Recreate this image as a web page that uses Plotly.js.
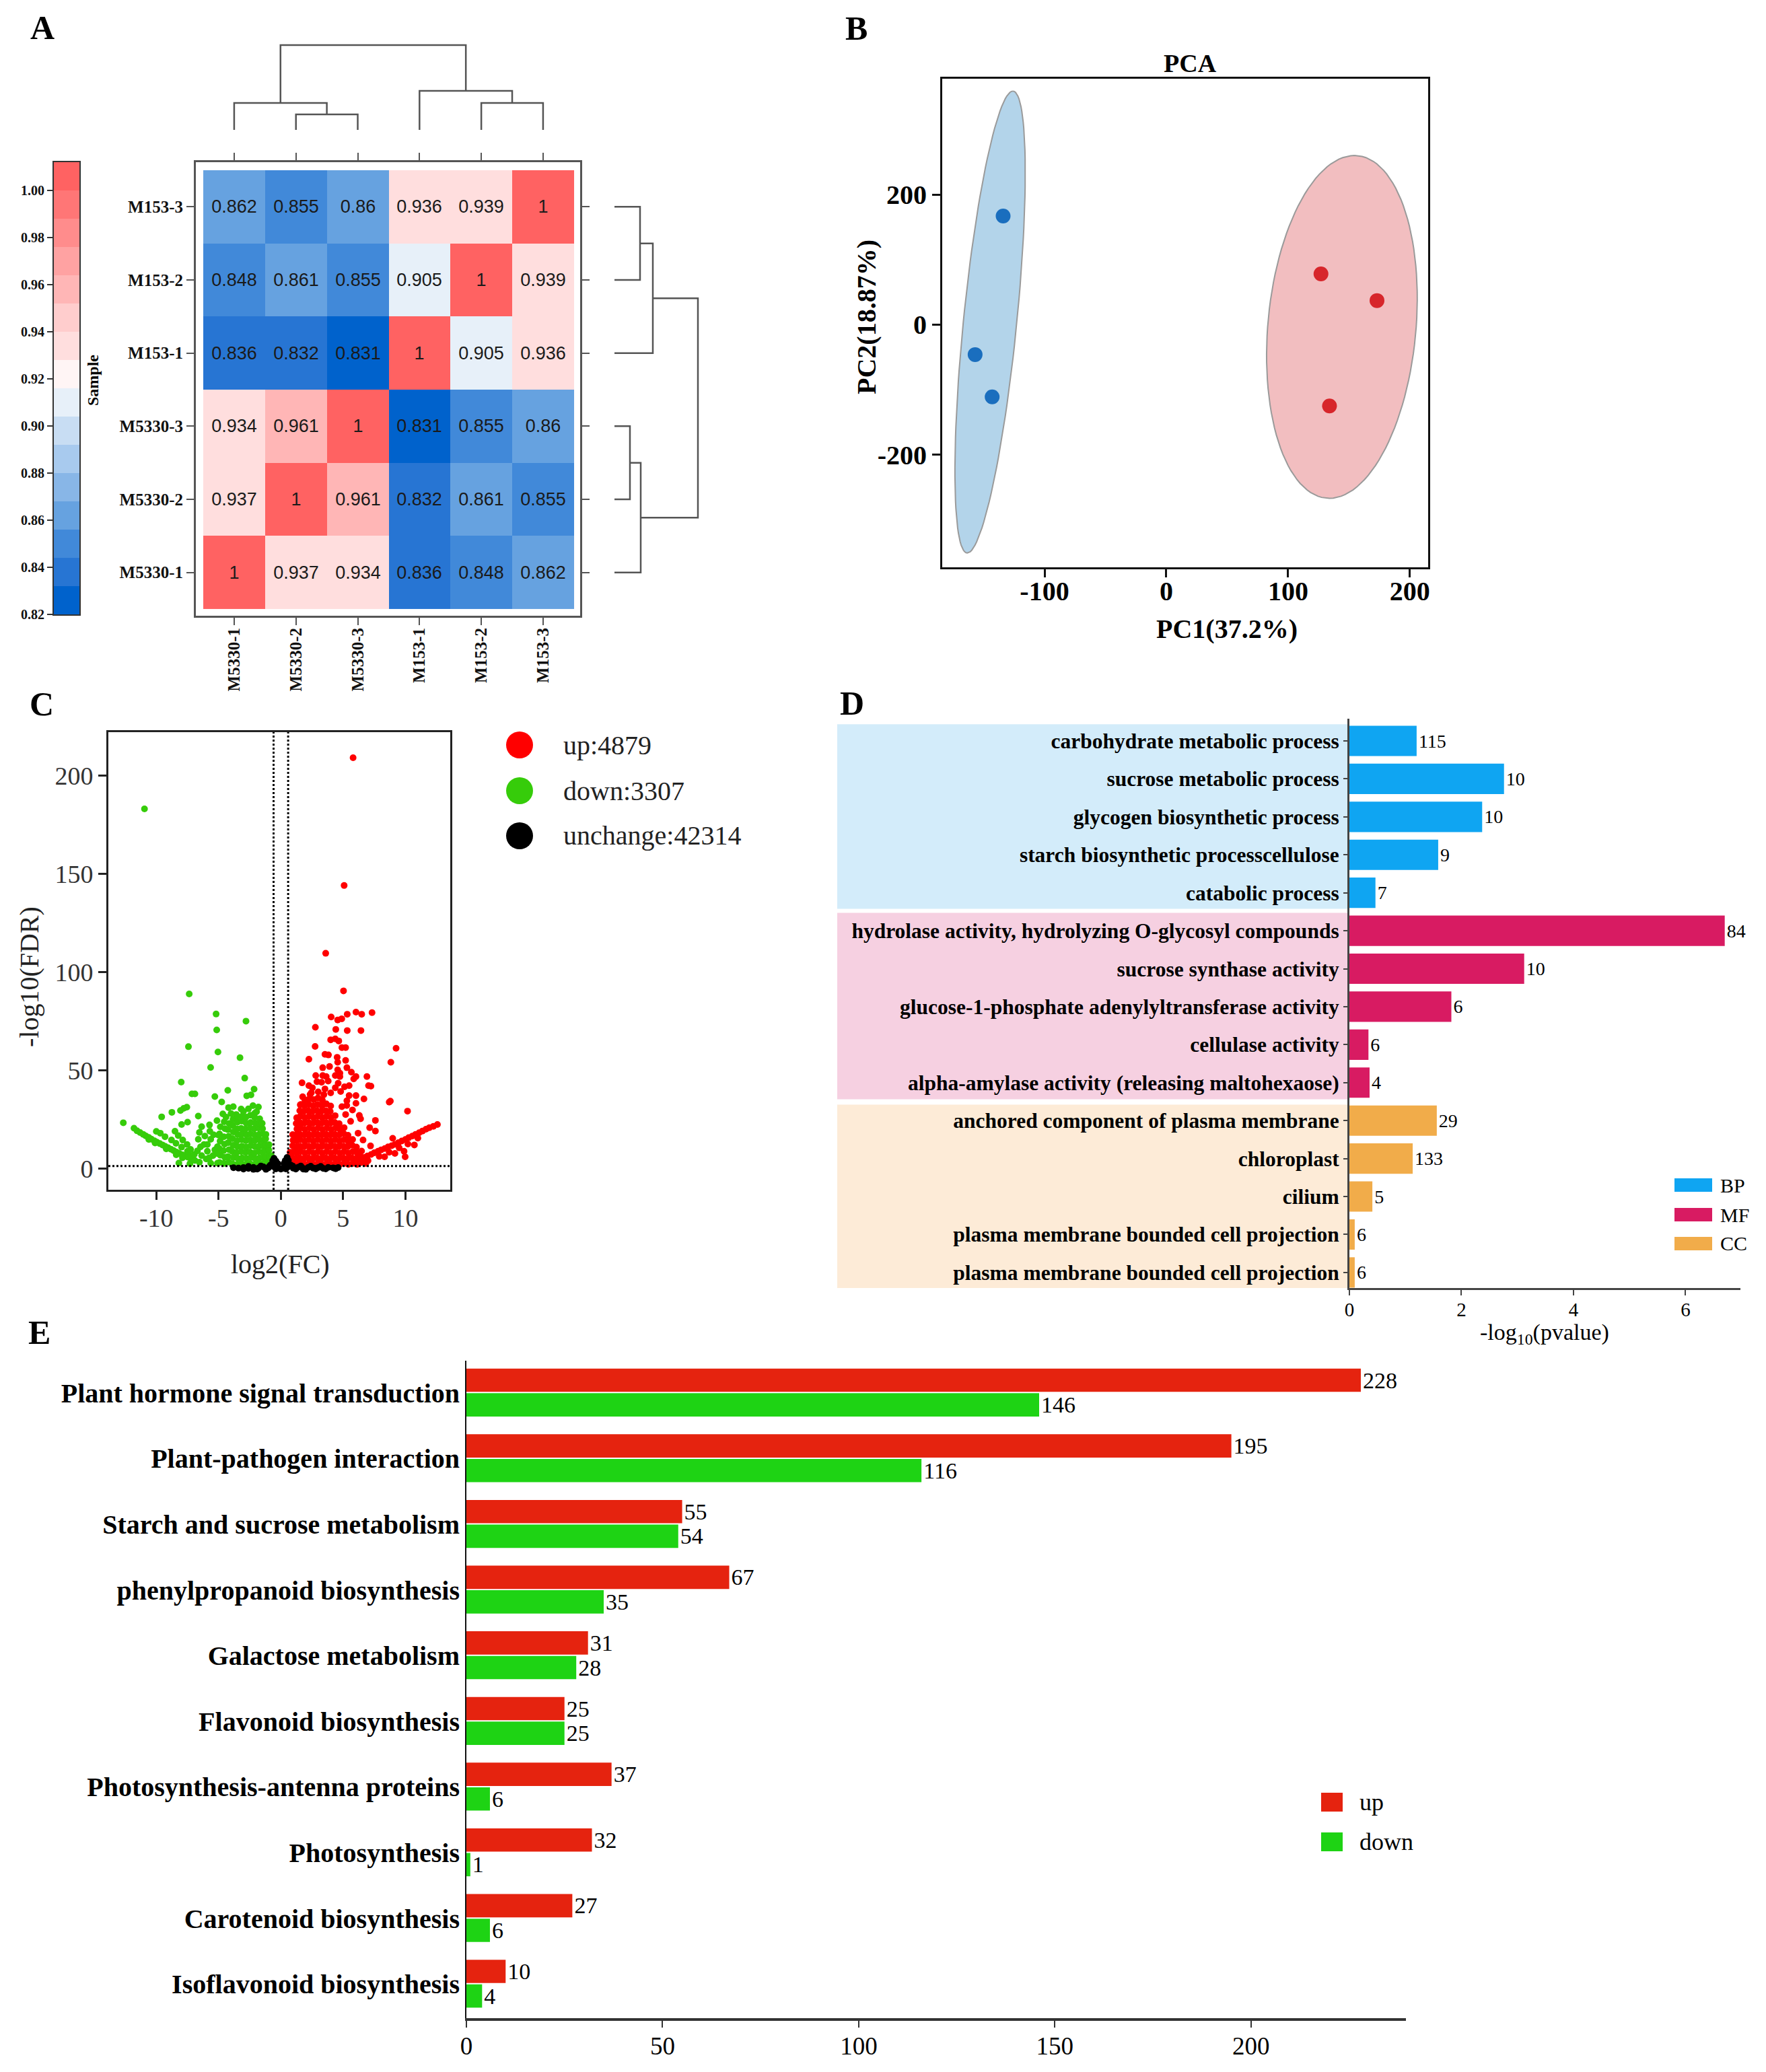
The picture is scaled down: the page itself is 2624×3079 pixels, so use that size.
<!DOCTYPE html>
<html><head><meta charset="utf-8">
<script src="https://cdn.plot.ly/plotly-3.0.1.min.js"></script>
<style>html,body{margin:0;padding:0;background:#fff}#chart{width:2624px;height:3079px}</style>
</head><body><div id="chart"></div>
<script>
// ================= DATA =================
// A: sample correlation (order bottom->top rows, left->right columns)
const samples = ['M5330-1','M5330-2','M5330-3','M153-1','M153-2','M153-3'];
const corrM5330_1 = [1, 0.937, 0.934, 0.836, 0.848, 0.862];
const corrM5330_2 = [0.937, 1, 0.961, 0.832, 0.861, 0.855];
const corrM5330_3 = [0.934, 0.961, 1, 0.831, 0.855, 0.86];
const corrM153_1  = [0.836, 0.832, 0.831, 1, 0.905, 0.936];
const corrM153_2  = [0.848, 0.861, 0.855, 0.905, 1, 0.939];
const corrM153_3  = [0.862, 0.855, 0.86, 0.936, 0.939, 1];
const corrTicks = [0.82,0.84,0.86,0.88,0.90,0.92,0.94,0.96,0.98,1.00];
const corrColors = ['#0062CC','#2775D3','#4189D9','#66A2E0','#88B6E7','#A8CAEE','#C8DDF3','#E7F0F9',
                    '#FFF5F5','#FFDEDE','#FFCDCD','#FFB6B6','#FFA2A2','#FF8C8C','#FF7676','#FF6262'];
// dendrograms: [childA, childB, height]  (numbers = leaf index, 'cK' = merge K)
const topMerges   = [[1,2,23],[0,'c0',40],[4,5,40],[3,'c2',58],['c1','c3',126]];
const rightMerges = [[5,4,38],[3,'c0',57],[2,1,23],[0,'c2',39],['c1','c3',124]];

// B: PCA
const pcaBlueX = [-134, -157, -143];
const pcaBlueY = [167, -46, -111];
const pcaRedX  = [127, 173, 134];
const pcaRedY  = [78, 37, -125];
const ellBlue = [-144.7, 4, 18.7, 355, 22, 0];   // cx, cy, ax, ay, bx, by
const ellRed  = [144.2, -3.5, 10.3, 263.5, 61, 0];

// C: volcano  [log2FC, -log10FDR]
const upPts = [
[5.8,209],[5.08,144],[3.6,109.5],[5.03,90.4],
[7.32,79.3],[6.03,79.6],[6.49,78.5],[5.33,78.5],[4.04,77.1],[4.56,75.6],[4.89,76.2],[2.77,71.9],[4.41,70.8],[5.33,70.2],[6.43,70.2],
[4.0,65.5],[4.37,66.0],[4.65,64.9],[2.75,62.1],[9.25,61.2],[4.9,61.5],[5.2,61.5],[3.54,58.1],[3.82,57.8],[4.52,56.6],[2.25,55.6],
[5.2,55.0],[8.83,54.1],[4.56,54.1],[3.36,51.3],[3.91,51.9],[4.56,50.2],[4.74,48.5],[5.3,51.3],[5.66,49.0],[2.8,47.3],[3.36,47.3],
[3.64,46.8],[4.37,47.3],[4.74,46.8],[6.03,46.8],[5.85,45.6],[6.91,46.8],[1.7,43.6],[2.25,42.2],[2.53,41.1],[3.27,43.9],[5.11,41.6],
[5.48,42.2],[7.04,42.2],[7.23,41.9],[3.54,40.5],[4.37,41.1],[2.35,37.7],[5.48,37.1],[6.03,37.1],[6.67,35.4],[8.79,34.3],[8.7,33.8],
[1.61,32.6],[5.29,32.1],[6.03,33.2],[5.75,29.8],[10.17,29.2],[6.3,27.0],[6.4,25.3],[7.59,24.5],[7.13,20.8],[7.59,19.1],[12.57,22.4],
[3.0,39.0],[4.0,38.5],[4.8,39.2],[3.8,44.5],[2.9,44.2],[4.6,43.4],[1.75,36.5],[2.45,38.6],[3.45,37.6],[5.2,27.5],[5.6,24.0],[4.9,31.5],
[6.2,18.0],[6.6,14.5],[7.2,11.5],[5.3,34.5],
[11.92,20.8],[11.37,19.1],[10.82,17.4],[10.26,15.7],[9.71,14.0],[9.16,12.3],[8.61,11.0],[8.05,9.5],[7.5,8.0],[6.95,6.4],[6.4,4.9],[5.85,3.4],
[12.25,21.5],[11.65,20.0],[11.1,18.2],[10.55,16.5],[10.0,14.8],[9.45,13.2],[8.9,11.6],[8.35,10.2],[7.8,8.8],[7.25,7.2],[6.7,5.6],[6.1,4.1],
[11.0,15.5],[10.2,12.5],[9.5,10.5],[8.7,8.3],[7.9,6.2],[7.0,4.0],[6.3,2.8],
[8.98,15.4],[10.72,12.0],[9.89,8.8],[9.98,6.0],[8.33,6.0],[9.16,7.7],
[0.72,2.6],[0.68,5.4],[0.74,8.3],
[0.97,2.4],[0.93,5.6],[0.96,8.4],[0.94,11.6],[0.98,14.4],[0.95,17.3],
[1.27,2.1],[1.23,5.0],[1.28,8.1],[1.22,10.9],[1.26,14.1],[1.24,17.0],[1.29,20.1],[1.23,22.9],[1.27,25.8],
[1.57,2.6],[1.53,5.4],[1.58,8.6],[1.52,11.4],[1.56,14.6],[1.54,17.4],[1.59,20.6],[1.53,23.4],[1.57,26.6],[1.52,29.4],[1.56,32.4],
[1.92,2.1],[1.88,5.1],[1.93,7.9],[1.87,11.1],[1.91,13.9],[1.89,17.1],[1.94,19.9],[1.88,23.1],[1.92,25.9],[1.86,29.1],[1.9,31.9],[1.93,34.9],
[2.27,2.6],[2.23,5.4],[2.28,8.6],[2.22,11.4],[2.26,14.6],[2.24,17.4],[2.29,20.6],[2.23,23.4],[2.27,26.6],[2.21,29.4],[2.25,32.6],[2.28,35.4],
[2.62,2.1],[2.58,5.1],[2.63,7.9],[2.57,11.1],[2.61,13.9],[2.59,17.1],[2.64,19.9],[2.58,23.1],[2.62,25.9],[2.56,29.1],[2.6,31.9],[2.63,35.1],
[2.97,2.6],[2.93,5.4],[2.98,8.6],[2.92,11.4],[2.96,14.6],[2.94,17.4],[2.99,20.6],[2.93,23.4],[2.97,26.6],[2.91,29.4],[2.95,32.6],[2.98,35.9],
[3.32,2.1],[3.28,5.1],[3.33,7.9],[3.27,11.1],[3.31,13.9],[3.29,17.1],[3.34,19.9],[3.28,23.1],[3.32,25.9],[3.26,29.1],[3.3,31.9],[3.33,34.8],
[3.67,2.6],[3.63,5.4],[3.68,8.6],[3.62,11.4],[3.66,14.6],[3.64,17.4],[3.69,20.6],[3.63,23.4],[3.67,26.6],[3.61,29.4],[3.65,32.9],
[4.02,2.1],[3.98,5.1],[4.03,7.9],[3.97,11.1],[4.01,13.9],[3.99,17.1],[4.04,19.9],[3.98,23.1],[4.02,25.9],[3.96,29.1],[4.0,31.8],
[4.37,2.6],[4.33,5.4],[4.38,8.6],[4.32,11.4],[4.36,14.6],[4.34,17.4],[4.39,20.6],[4.33,23.4],[4.36,26.9],
[4.72,2.1],[4.68,5.1],[4.73,7.9],[4.67,11.1],[4.71,13.9],[4.69,17.1],[4.74,19.9],[4.68,22.8],
[5.07,2.6],[5.03,5.4],[5.08,8.6],[5.02,11.4],[5.06,14.6],[5.04,17.9],[5.08,20.8],
[5.42,2.1],[5.38,5.1],[5.43,7.9],[5.37,11.1],[5.41,13.9],[5.39,16.9],
[5.77,2.6],[5.73,5.4],[5.78,8.6],[5.72,11.9],[5.76,14.8],
[6.12,2.1],[6.08,5.1],[6.13,7.9],[6.07,10.9],
[6.47,3.1],[6.43,5.9],[6.48,8.9],
[6.82,2.6],[6.78,5.4]
];
const downPts = [
[-10.95,183],[-7.36,88.8],[-5.2,78.6],[-2.8,75],[-5.15,70.5],[-7.42,62],[-5.05,59.3],[-3.28,56.4],[-5.64,51.4],[-2.9,46],[-8.0,44],
[-4.26,39.8],[-2.15,40.4],[-7.14,38],[-6.9,38],[-5.3,36.6],[-2.74,37],[-2.4,37.5],[-4.75,33.9],[-4.2,31],[-3.82,31.5],[-3.19,30.3],
[-2.24,32],[-1.8,31.3],[-7.55,31.2],[-7.8,30.6],[-8.06,29.5],[-8.75,28.6],[-9.57,26.3],[-4.66,27.8],[-3.58,27.5],[-6.63,26.7],
[-2.1,28.1],[-1.7,25.3],[-12.65,23.3],[-5.13,24.4],[-7.49,23.6],[-7.97,22.4],[-5.73,22.2],[-10.0,18.9],[-9.68,18.0],[-6.54,18.4],
[-6.63,14.9],[-6.36,21.3],[-8.19,2.8],[-7.3,2.5],
[-11.79,20.5],[-11.3,18.3],[-10.84,16.6],[-10.4,15.0],[-9.95,13.4],[-9.5,12.0],[-9.05,10.6],[-8.6,9.1],[-8.15,7.7],[-7.7,6.4],[-7.25,5.2],[-6.9,4.1],
[-11.55,19.2],[-11.05,17.4],[-10.6,15.8],[-10.15,14.1],[-9.72,12.7],[-9.28,11.3],[-8.82,9.8],[-8.38,8.4],[-7.92,7.0],[-7.48,5.8],[-7.08,4.6],
[-9.3,16.2],[-8.78,14.5],[-8.42,12.8],[-7.97,10.9],[-7.5,8.8],[-7.2,6.6],
[-8.5,19.0],[-8.24,16.8],[-7.88,14.5],[-7.53,12.2],[-7.25,9.7],[-6.95,7.2],
[-10.6,14.8],[-10.1,13.0],[-9.2,10.0],[-8.4,7.0],[-7.9,5.5],
[-6.17,12.2],[-5.9,8.8],[-5.63,14.9],[-6.36,6.6],[-5.99,4.9],[-5.45,6.6],[-5.09,11.1],[-5.7,19],[-6.54,3.2],[-5.63,2.7],[-5.09,2.7],
[-5.9,12.2],[-6.1,16.5],[-5.4,17.2],[-5.3,9.5],[-6.7,9.0],[-6.45,11.0],[-5.75,5.5],
[-4.92,3.1],[-4.85,6.8],[-4.95,10.2],[-4.88,13.9],[-4.93,17.6],[-4.86,21.2],
[-4.57,2.6],[-4.5,5.7],[-4.6,9.1],[-4.52,12.4],[-4.58,16.2],[-4.49,20.3],[-4.55,23.8],
[-4.18,3.2],[-4.25,6.1],[-4.16,9.6],[-4.22,13.2],[-4.19,16.4],[-4.24,19.8],[-4.15,22.9],
[-3.87,2.4],[-3.82,5.6],[-3.9,8.7],[-3.83,11.8],[-3.88,15.2],[-3.81,18.6],[-3.86,21.9],[-3.84,25.1],
[-3.52,2.1],[-3.47,5.2],[-3.55,8.1],[-3.49,11.2],[-3.53,14.1],[-3.46,17.3],[-3.51,20.2],[-3.48,23.6],
[-3.17,2.6],[-3.12,5.4],[-3.18,8.6],[-3.13,11.4],[-3.16,14.7],[-3.11,17.6],[-3.19,20.4],[-3.14,24.1],[-3.12,26.6],
[-2.82,2.1],[-2.77,5.1],[-2.83,8.2],[-2.78,10.9],[-2.81,14.2],[-2.76,17.1],[-2.84,20.1],[-2.79,23.2],[-2.8,26.2],
[-2.47,2.5],[-2.43,5.6],[-2.48,8.4],[-2.42,11.6],[-2.46,14.5],[-2.44,17.6],[-2.49,20.6],[-2.43,23.4],[-2.45,27.1],
[-2.12,2.0],[-2.08,5.1],[-2.13,7.9],[-2.07,11.1],[-2.11,14.1],[-2.09,17.0],[-2.14,20.2],[-2.06,23.1],[-2.1,26.0],
[-1.77,2.6],[-1.73,5.4],[-1.78,8.6],[-1.72,11.5],[-1.76,14.6],[-1.74,17.4],[-1.79,20.6],[-1.73,23.0],
[-1.47,2.4],[-1.43,5.6],[-1.48,8.4],[-1.42,11.6],[-1.46,14.4],[-1.44,17.6],[-1.47,20.3],
[-1.22,3.1],[-1.18,6.0],[-1.21,9.1],[-1.19,12.0],[-1.22,15.1],[-1.2,17.4],
[-0.97,3.6],[-0.93,6.4],[-0.96,9.4],[-0.95,12.1],
[-0.8,4.1],[-0.77,6.6],
[-4.4,26.2],[-3.0,29.1],[-2.6,30.4],[-4.0,28.0],[-3.5,26.5],[-1.95,28.9],[-1.5,23.0],[-5.0,17.0],[-5.05,7.5]
];
const unchPts = [
[-3.8,0.4],[-3.4,0.2],[-3.0,0.5],[-2.6,0.1],[-2.2,0.6],[-1.8,0.2],[-1.4,0.8],[-1.0,0.3],[-0.6,1.0],[-0.2,0.4],[0.2,0.3],
[0.6,0.9],[1.0,0.2],[1.4,0.7],[1.8,0.1],[2.2,0.6],[2.6,0.2],[3.0,0.5],[3.4,0.1],[3.8,0.6],[4.2,0.3],[4.6,0.5],
[-3.0,-0.3],[-2.2,-0.4],[-1.6,1.3],[-1.2,-0.4],[-0.8,1.9],[-0.4,-0.2],[0.0,-0.3],[0.4,-0.2],[0.8,1.8],[1.2,-0.3],[1.6,1.3],
[2.0,-0.4],[2.8,-0.2],[3.6,-0.2],[4.4,-0.1],[-2.6,1.1],[2.4,1.2],[3.2,1.1],[-1.9,-0.3],[1.8,-0.3],
[-0.65,4.0],[-0.55,5.2],[-0.4,3.8],[-0.25,2.5],[0.25,2.5],[0.35,4.0],[0.5,5.6],[0.6,4.2],[-0.9,1.3],[0.95,1.3]
];
const volcanoLegend = ['up:4879','down:3307','unchange:42314'];

// D: GO enrichment
const goTerms = ['carbohydrate metabolic process','sucrose metabolic process','glycogen biosynthetic process',
  'starch biosynthetic processcellulose','catabolic process',
  'hydrolase activity, hydrolyzing O-glycosyl compounds','sucrose synthase activity',
  'glucose-1-phosphate adenylyltransferase activity','cellulase activity','alpha-amylase activity (releasing maltohexaose)',
  'anchored component of plasma membrane','chloroplast','cilium',
  'plasma membrane bounded cell projection','plasma membrane bounded cell projection'];
const goLogP   = [1.20, 2.76, 2.37, 1.585, 0.465, 6.70, 3.12, 1.82, 0.34, 0.36, 1.56, 1.13, 0.41, 0.095, 0.095];
const goCounts = [115, 10, 10, 9, 7, 84, 10, 6, 6, 4, 29, 133, 5, 6, 6];
const goClass  = ['BP','BP','BP','BP','BP','MF','MF','MF','MF','MF','CC','CC','CC','CC','CC'];
const goClassNames = ['BP','MF','CC'];

// E: KEGG pathways
const keggPaths = ['Plant hormone signal transduction','Plant-pathogen interaction','Starch and sucrose metabolism',
  'phenylpropanoid biosynthesis','Galactose metabolism','Flavonoid biosynthesis','Photosynthesis-antenna proteins',
  'Photosynthesis','Carotenoid biosynthesis','Isoflavonoid biosynthesis'];
const keggUp   = [228, 195, 55, 67, 31, 25, 37, 32, 27, 10];
const keggDown = [146, 116, 54, 35, 28, 25, 6, 1, 6, 4];

// ================= STYLE / LAYOUT =================
const W = 2624, H = 3079;
const fx = p => p / W;
const fy = p => 1 - p / H;
const SERIF = 'Liberation Serif', SANS = 'Liberation Sans';
const bold = (size, color) => ({family: SERIF, size: size, color: color || '#000', weight: 'bold'});
const reg  = (size, color) => ({family: SERIF, size: size, color: color || '#000'});

const corr = [corrM5330_1, corrM5330_2, corrM5330_3, corrM153_1, corrM153_2, corrM153_3];
const corrText = corr.map(r => r.map(v => String(v)));
const ZMIN = 0.8195, ZMAX = 1.0115;
const nBins = corrColors.length;
const colorscale = [];
corrColors.forEach((c, i) => { colorscale.push([i / nBins, c]); colorscale.push([(i + 1) / nBins, c]); });
const barCenters = corrColors.map((c, i) => 0.826 + 0.012 * i);

function dendro(merges) {
  const pos = [], hgt = [];
  const node = k => (typeof k === 'number') ? [k, 0] : [pos[+k.slice(1)], hgt[+k.slice(1)]];
  const P = [], Hh = [];
  merges.forEach((m, i) => {
    const a = node(m[0]), b = node(m[1]), h = m[2];
    P.push(a[0], a[0], b[0], b[0], null); Hh.push(a[1], h, h, b[1], null);
    pos[i] = (a[0] + b[0]) / 2; hgt[i] = h;
  });
  return {pos: P, h: Hh};
}
function ellipse(e) {
  const xs = [], ys = [];
  for (let i = 0; i <= 120; i++) {
    const t = 2 * Math.PI * i / 120;
    xs.push(e[0] + e[2] * Math.cos(t) + e[4] * Math.sin(t));
    ys.push(e[1] + e[3] * Math.cos(t) + e[5] * Math.sin(t));
  }
  return {x: xs, y: ys};
}

const topD = dendro(topMerges), rightD = dendro(rightMerges);
const eB = ellipse(ellBlue), eR = ellipse(ellRed);
const goColor = {BP: '#0FA5F2', MF: '#D81B62', CC: '#F1AC4A'};
const goBg = {BP: '#D3ECFA', MF: '#F6D0E1', CC: '#FDEBD7'};
const upColor = '#E5230F', downColor = '#1ED314';
const idx = n => Array.from({length: n}, (_, i) => i);

const traces = [
  // A heatmap
  {type: 'heatmap', x: idx(6), y: idx(6), z: corr, text: corrText, texttemplate: '%{text}',
   textfont: {family: SANS, size: 27, color: '#1a1a1a'}, colorscale: colorscale, zmin: ZMIN, zmax: ZMAX,
   showscale: false, xaxis: 'x', yaxis: 'y', hoverinfo: 'skip'},
  // A colorbar
  {type: 'heatmap', x: [0], y: barCenters, z: barCenters.map(v => [v]), colorscale: colorscale, zmin: ZMIN, zmax: ZMAX,
   showscale: false, xaxis: 'x2', yaxis: 'y2', hoverinfo: 'skip'},
  // A dendrograms
  {type: 'scatter', mode: 'lines', x: topD.pos, y: topD.h, xaxis: 'x', yaxis: 'y3',
   line: {color: '#555', width: 2.5}, hoverinfo: 'skip', connectgaps: false},
  {type: 'scatter', mode: 'lines', x: rightD.h, y: rightD.pos, xaxis: 'x3', yaxis: 'y',
   line: {color: '#555', width: 2.5}, hoverinfo: 'skip', connectgaps: false},
  // B PCA
  {type: 'scatter', mode: 'lines', x: eB.x, y: eB.y, fill: 'toself', fillcolor: '#B3D4EA',
   line: {color: '#9a9a9a', width: 2}, xaxis: 'x4', yaxis: 'y4', hoverinfo: 'skip'},
  {type: 'scatter', mode: 'lines', x: eR.x, y: eR.y, fill: 'toself', fillcolor: '#F2BEC0',
   line: {color: '#9a9a9a', width: 2}, xaxis: 'x4', yaxis: 'y4', hoverinfo: 'skip'},
  {type: 'scatter', mode: 'markers', x: pcaBlueX, y: pcaBlueY, marker: {color: '#1A6EBE', size: 22},
   xaxis: 'x4', yaxis: 'y4'},
  {type: 'scatter', mode: 'markers', x: pcaRedX, y: pcaRedY, marker: {color: '#D7262B', size: 22},
   xaxis: 'x4', yaxis: 'y4'},
  // C volcano
  {type: 'scatter', mode: 'markers', x: upPts.map(p => p[0]), y: upPts.map(p => p[1]),
   marker: {color: '#FF0000', size: 10}, xaxis: 'x5', yaxis: 'y5'},
  {type: 'scatter', mode: 'markers', x: downPts.map(p => p[0]), y: downPts.map(p => p[1]),
   marker: {color: '#36CC0A', size: 10}, xaxis: 'x5', yaxis: 'y5'},
  {type: 'scatter', mode: 'markers', x: unchPts.map(p => p[0]), y: unchPts.map(p => p[1]),
   marker: {color: '#000000', size: 10}, xaxis: 'x5', yaxis: 'y5'},
  // D GO bars
  {type: 'bar', orientation: 'h', y: idx(goTerms.length), x: goLogP, width: 0.8,
   marker: {color: goClass.map(c => goColor[c])}, text: goCounts.map(String), texttemplate: '%{text}',
   textposition: 'outside', textfont: reg(28), cliponaxis: false, constraintext: 'none',
   xaxis: 'x6', yaxis: 'y6'},
  // E KEGG bars
  {type: 'bar', orientation: 'h', y: idx(keggPaths.length), x: keggUp, offset: -0.37, width: 0.355,
   marker: {color: upColor}, text: keggUp.map(String), texttemplate: '%{text}', textposition: 'outside',
   textfont: reg(34), cliponaxis: false, constraintext: 'none', xaxis: 'x7', yaxis: 'y7'},
  {type: 'bar', orientation: 'h', y: idx(keggPaths.length), x: keggDown, offset: 0.005, width: 0.355,
   marker: {color: downColor}, text: keggDown.map(String), texttemplate: '%{text}', textposition: 'outside',
   textfont: reg(34), cliponaxis: false, constraintext: 'none', xaxis: 'x7', yaxis: 'y7'}
];

const noAxis = {visible: false, showgrid: false, zeroline: false, fixedrange: true};
const heatAx = {showgrid: false, zeroline: false, ticks: 'outside', ticklen: 11, tickwidth: 2, tickcolor: '#555',
  showline: true, linecolor: '#555', linewidth: 3, mirror: 'ticks', tickfont: bold(25, '#111'), tickvals: idx(6), ticktext: samples};
const boxAx = (extra) => Object.assign({showgrid: false, zeroline: false, ticks: 'outside', ticklen: 12, tickwidth: 3,
  tickcolor: '#111', showline: true, linecolor: '#111', linewidth: 3, mirror: true}, extra);

// D background bands (data y units of the GO axis)
const goBands = [['BP', -0.44, 4.42], ['MF', 4.53, 9.44], ['CC', 9.58, 14.42]];

const shapes = [];
goBands.forEach(b => shapes.push({type: 'rect', xref: 'paper', yref: 'y6', x0: fx(1244), x1: fx(2005), y0: b[1], y1: b[2],
  fillcolor: goBg[b[0]], line: {width: 0}, layer: 'below'}));
// volcano threshold lines
[-0.585, 0.585].forEach(v => shapes.push({type: 'line', xref: 'x5', yref: 'y5 domain', x0: v, x1: v, y0: 0, y1: 1,
  line: {color: '#000', width: 3, dash: 'dot'}}));
shapes.push({type: 'line', xref: 'x5 domain', yref: 'y5', x0: 0, x1: 1, y0: 1.3, y1: 1.3, line: {color: '#000', width: 3, dash: 'dot'}});
// volcano legend dots
const volLegColors = ['#FF0000', '#36CC0A', '#000000'];
const volLegY = [1107, 1175, 1242];
volLegColors.forEach((c, i) => shapes.push({type: 'circle', xref: 'paper', yref: 'paper', xsizemode: 'pixel', ysizemode: 'pixel',
  xanchor: fx(772), yanchor: fy(volLegY[i]), x0: -20, x1: 20, y0: -20, y1: 20, fillcolor: c, line: {width: 0}}));
// GO legend boxes
const goLegY = [1761, 1805, 1848];
goClassNames.forEach((c, i) => shapes.push({type: 'rect', xref: 'paper', yref: 'paper', x0: fx(2488), x1: fx(2544),
  y0: fy(goLegY[i] + 10), y1: fy(goLegY[i] - 10), fillcolor: goColor[c], line: {width: 0}}));
// KEGG legend squares
const kegLegY = [2678, 2737];
[upColor, downColor].forEach((c, i) => shapes.push({type: 'rect', xref: 'paper', yref: 'paper', x0: fx(1963), x1: fx(1995),
  y0: fy(kegLegY[i] + 14), y1: fy(kegLegY[i] - 14), fillcolor: c, line: {width: 0}}));

const ann = (px, py, text, font, xa, ya, angle) => ({xref: 'paper', yref: 'paper', x: fx(px), y: fy(py), text: text, font: font,
  xanchor: xa || 'center', yanchor: ya || 'middle', showarrow: false, textangle: angle || 0});
const annotations = [
  ann(63, 41, 'A', bold(50)), ann(1272, 42, 'B', bold(50)), ann(62, 1046, 'C', bold(50)),
  ann(1266, 1045, 'D', bold(50)), ann(58, 1980, 'E', bold(50)),
  ann(138, 565, 'Sample', bold(24), 'center', 'middle', -90),
  ann(1768, 94, 'PCA', bold(38)),
  ann(1823, 934, 'PC1(37.2%)', bold(40)),
  ann(1287, 471, 'PC2(18.87%)', bold(40), 'center', 'middle', -90),
  ann(417, 1879, 'log2(FC)', reg(40, '#222')),
  ann(43, 1452, '-log10(FDR)', reg(40, '#222'), 'center', 'middle', -90),
  ann(2295, 1982, '-log<sub>10</sub>(pvalue)', reg(34)),
];
volcanoLegend.forEach((t, i) => annotations.push(ann(835, volLegY[i], t, reg(40, '#222'), 'left')));
goClassNames.forEach((t, i) => annotations.push(ann(2554, goLegY[i], t, reg(30), 'left')));
['up', 'down'].forEach((t, i) => annotations.push(ann(2018, kegLegY[i], t, reg(36), 'left')));

const layout = {
  width: W, height: H, margin: {l: 0, r: 0, t: 0, b: 0}, paper_bgcolor: '#fff', plot_bgcolor: 'rgba(0,0,0,0)',
  showlegend: false, font: {family: SERIF, color: '#000'}, barmode: 'overlay',
  // A heatmap
  xaxis: Object.assign({}, heatAx, {domain: [fx(291), fx(862)], range: [-0.62, 5.6], tickangle: -90, anchor: 'y',
    ticklabelstandoff: -6}),
  yaxis: Object.assign({}, heatAx, {domain: [fy(915), fy(241)], range: [-0.592, 5.61], anchor: 'x'}),
  // A colorbar
  xaxis2: {domain: [fx(80), fx(118)], range: [-0.5, 0.5], showticklabels: false, ticks: '', showline: true, mirror: true,
    linecolor: '#333', linewidth: 2, showgrid: false, zeroline: false, anchor: 'y2'},
  yaxis2: {domain: [fy(913), fy(241)], range: [0.82, 1.012], tickvals: corrTicks, tickformat: '.2f', ticks: 'outside',
    ticklen: 8, tickwidth: 2, tickcolor: '#333', showline: true, mirror: true, linecolor: '#333', linewidth: 2,
    showgrid: false, zeroline: false, tickfont: bold(20, '#111'), anchor: 'x2'},
  // A dendrograms
  yaxis3: Object.assign({}, noAxis, {domain: [fy(197), fy(61)], range: [-4, 132], anchor: 'x'}),
  xaxis3: Object.assign({}, noAxis, {domain: [fx(911), fx(1039)], range: [-2, 126], anchor: 'y'}),
  // B PCA
  xaxis4: boxAx({domain: [fx(1400), fx(2122)], range: [-184, 215], tickvals: [-100, 0, 100, 200],
    ticktext: ['-100', '0', '100', '200'], tickfont: bold(40), anchor: 'y4', ticklabelstandoff: -14}),
  yaxis4: boxAx({domain: [fy(843), fy(117)], range: [-373, 378], tickvals: [-200, 0, 200],
    ticktext: ['-200', '0', '200'], tickfont: bold(40), anchor: 'x4'}),
  // C volcano
  xaxis5: boxAx({domain: [fx(161), fx(669)], range: [-13.85, 13.6], tickvals: [-10, -5, 0, 5, 10],
    ticktext: ['-10', '-5', '0', '5', '10'], tickfont: reg(38, '#333'), linecolor: '#222', tickcolor: '#222', anchor: 'y5',
    ticklabelstandoff: -6}),
  yaxis5: boxAx({domain: [fy(1768), fy(1088)], range: [-10.8, 222], tickvals: [0, 50, 100, 150, 200],
    tickfont: reg(38, '#333'), linecolor: '#222', tickcolor: '#222', anchor: 'x5'}),
  // D GO
  xaxis6: {domain: [fx(2005), fx(2586)], range: [0, 6.98], tickvals: [0, 2, 4, 6], ticks: 'outside', ticklen: 8, tickwidth: 2,
    tickcolor: '#444', showline: true, linecolor: '#444', linewidth: 3, showgrid: false, zeroline: false,
    tickfont: reg(29), anchor: 'y6', ticklabelstandoff: -4},
  yaxis6: {domain: [fy(1914), fy(1068)], range: [14.41, -0.585], tickvals: idx(goTerms.length), ticktext: goTerms,
    ticks: 'outside', ticklen: 6, tickwidth: 2, tickcolor: '#444', showline: true, linecolor: '#444', linewidth: 3,
    showgrid: false, zeroline: false, tickfont: bold(31.5), anchor: 'x6'},
  // E KEGG
  xaxis7: {domain: [fx(693), fx(2089)], range: [0, 239.5], tickvals: [0, 50, 100, 150, 200], ticks: 'outside', ticklen: 10,
    tickwidth: 2, tickcolor: '#333', showline: true, linecolor: '#333', linewidth: 4, showgrid: false, zeroline: false,
    tickfont: reg(37), anchor: 'y7', ticklabelstandoff: -4},
  yaxis7: {domain: [fy(2999), fy(2022)], range: [9.52, -0.49], tickvals: idx(keggPaths.length), ticktext: keggPaths,
    ticks: '', showline: true, linecolor: '#111', linewidth: 2, showgrid: false, zeroline: false,
    tickfont: bold(40), anchor: 'x7'},
  shapes: shapes,
  annotations: annotations
};

Plotly.newPlot('chart', traces, layout, {displayModeBar: false, staticPlot: true});
</script>
</body></html>
